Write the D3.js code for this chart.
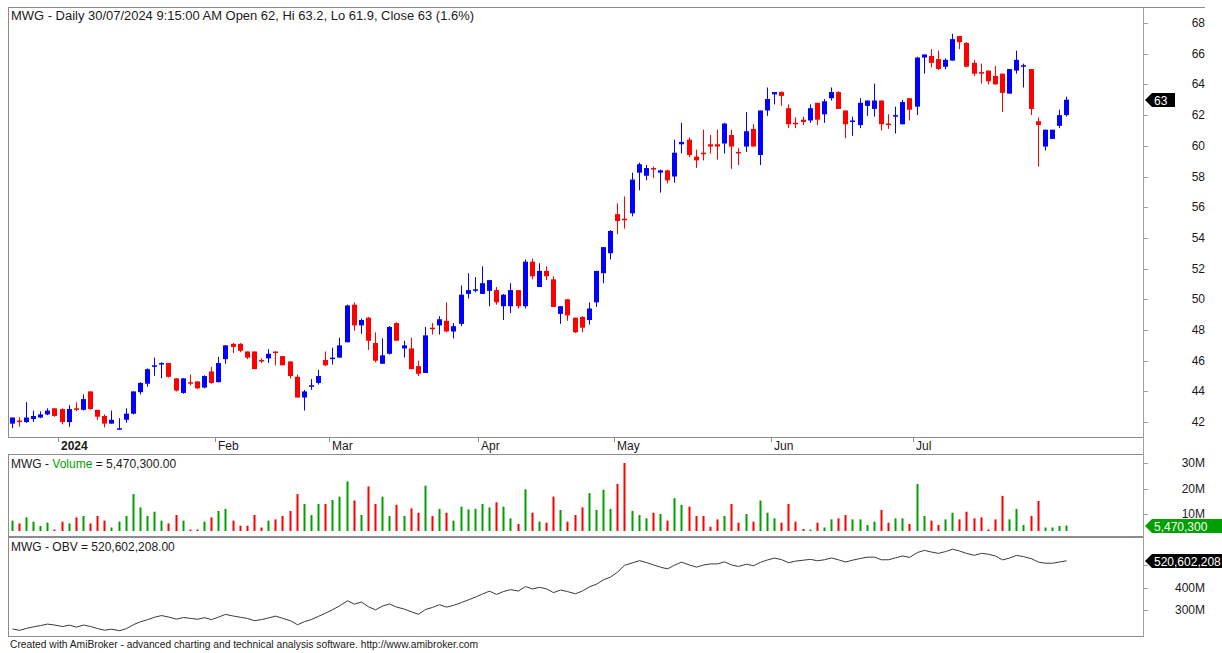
<!DOCTYPE html>
<meta charset="utf-8">
<script src="https://d3js.org/d3.v7.min.js"></script>
<style>
  body { margin: 0; background: #fff; }
  text { font-family: Arial, "Liberation Sans", sans-serif; fill: #1a1a1a; }
</style>
<div id="chart"></div>
<script>

// trading days: Dec 21 2023 .. Jul 30 2024, weekends and HOSE holidays removed
var holidays = ["2024-01-01", "2024-02-08", "2024-02-09", "2024-02-12", "2024-02-13",
                "2024-02-14", "2024-04-18", "2024-04-29", "2024-04-30", "2024-05-01"];

// daily prices (thousand VND)
var open = [41.9,42.1,42.0,42.2,42.3,42.5,42.9,42.85,42.0,42.9,
  42.8,44.0,42.8,42.4,41.9,41.5,42.15,42.55,43.95,44.5,
  45.6,45.75,45.85,44.85,43.9,44.6,44.65,44.25,45.3,44.6,
  46.1,47.1,47.1,46.6,46.6,46.05,46.15,46.6,46.3,45.95,
  44.95,43.6,44.3,44.55,46.05,46.15,46.2,47.2,49.65,48.3,
  48.8,47.15,45.8,46.45,48.45,46.8,46.8,45.65,45.2,48.15,
  48.3,48.6,47.9,48.4,50.35,50.6,50.35,50.55,50.6,49.55,
  49.55,50.6,49.55,52.45,50.8,51.85,51.3,49.05,50.0,48.8,
  48.85,48.65,49.8,51.7,53.0,55.55,55.25,55.6,58.25,58.05,
  58.55,58.25,58.4,58.0,60.1,60.4,59.3,59.55,60.1,60.1,
  60.15,60.7,59.6,59.95,61.1,59.4,62.3,63.35,63.5,62.45,
  61.5,61.7,61.65,62.8,62.05,63.1,63.5,62.3,61.6,61.35,
  62.6,62.4,62.95,61.45,61.95,61.4,63.1,62.55,65.75,65.85,
  65.65,65.15,65.55,67.15,66.7,65.4,64.8,64.9,64.55,64.7,
  63.4,64.9,65.2,65.0,61.6,59.95,60.45,61.3,62.0];
var high = [42.3,42.3,43.3,42.75,42.7,42.9,42.9,42.9,43.1,43.3,
  43.8,44.0,42.8,42.5,42.75,42.25,42.9,44.0,44.6,45.5,
  46.2,45.9,45.85,44.85,44.85,45.1,44.65,45.05,45.6,46.25,
  47.0,47.15,47.15,46.6,46.6,46.15,46.75,46.6,46.3,45.95,
  45.1,44.1,44.8,45.4,46.6,46.85,47.5,49.65,49.8,48.75,
  48.85,47.85,47.45,48.25,48.5,47.3,47.5,46.0,48.2,48.45,
  48.9,49.8,48.45,50.9,51.7,51.45,52.15,51.25,50.8,50.35,
  51.05,50.6,52.6,52.65,52.35,52.15,51.5,49.55,50.0,48.8,
  48.9,49.8,51.85,53.4,54.5,56.25,56.7,58.25,58.9,58.75,
  58.65,58.45,58.45,60.4,61.5,60.55,59.75,61.05,60.7,61.05,
  61.5,61.05,59.85,62.2,61.4,62.3,63.8,63.5,63.55,62.7,
  61.85,61.9,62.7,62.8,63.05,63.8,63.55,62.3,61.9,63.1,
  62.95,64.05,62.95,62.05,62.55,63.0,63.1,65.8,65.95,66.3,
  66.2,65.7,67.3,67.15,66.75,65.6,65.35,64.9,65.2,64.7,
  65.0,66.2,65.35,65.0,61.85,61.05,61.05,62.35,63.2];
var low = [41.6,41.7,41.95,42.0,42.25,42.45,42.35,41.85,41.7,42.7,
  42.75,42.8,42.15,41.65,41.9,41.5,41.95,42.5,43.8,44.3,
  45.0,44.85,44.9,44.0,43.85,44.4,44.15,44.2,44.5,44.6,
  45.8,46.5,46.55,46.1,45.45,45.85,45.85,45.7,45.7,44.85,
  43.6,42.75,44.1,44.45,45.65,45.75,46.2,47.2,47.95,47.75,
  46.7,45.9,45.8,46.4,47.3,46.2,45.45,45.0,45.2,47.7,
  47.7,47.85,47.45,48.25,50.05,50.45,50.35,49.55,49.65,48.65,
  49.1,49.4,49.4,51.3,50.8,51.25,49.5,48.4,48.6,47.8,
  47.85,48.35,49.5,51.05,52.6,54.25,54.6,55.4,57.1,57.75,
  57.9,56.95,57.55,57.6,59.5,59.25,58.55,59.05,59.5,59.1,
  59.5,58.5,58.75,59.6,59.95,58.75,61.95,62.7,62.6,61.15,
  61.15,61.35,61.5,61.35,61.5,62.95,62.4,60.5,60.65,61.15,
  61.95,61.9,61.0,61.1,60.8,61.4,61.65,62.0,64.7,65.1,
  64.95,65.0,65.55,66.3,65.15,64.55,64.05,64.0,64.0,62.2,
  63.4,64.7,63.8,62.0,58.65,59.7,60.45,61.15,61.9];
var close = [42.3,42.0,42.3,42.4,42.5,42.75,42.4,42.0,42.85,42.8,
  43.5,42.85,42.35,41.9,42.15,41.6,42.55,44.0,44.55,45.45,
  45.7,45.85,44.95,44.05,44.85,44.55,44.2,45.0,44.55,45.85,
  47.0,46.9,46.65,46.2,45.45,45.95,46.45,46.5,45.7,45.0,
  43.6,44.0,44.4,45.0,45.7,46.2,47.0,49.6,48.3,48.65,
  47.3,46.0,46.35,48.2,47.3,47.0,45.45,45.15,47.65,48.1,
  48.7,47.9,48.25,50.3,50.6,50.65,51.05,51.25,49.8,50.3,
  50.6,49.55,52.45,51.5,51.85,51.5,49.5,49.55,48.95,47.85,
  48.15,49.4,51.85,53.4,54.45,55.1,55.2,57.8,58.8,58.55,
  58.45,58.4,57.75,59.55,60.25,59.4,59.05,59.5,59.95,59.95,
  61.45,59.95,59.55,60.95,59.95,62.3,63.05,63.5,63.25,61.4,
  61.45,61.55,62.45,61.7,62.9,63.5,62.4,61.4,61.65,62.8,
  62.95,62.95,61.4,61.4,62.0,62.85,62.35,65.75,65.95,65.4,
  65.0,65.6,66.95,66.75,65.15,64.7,64.75,64.2,64.0,63.45,
  65.0,65.6,65.25,62.4,61.35,61.05,61.05,62.0,63.0];

// daily volume, millions of shares
var volume = [7.4,6.3,8.7,7.0,5.3,6.6,3.9,7.0,6.3,8.7,
  9.2,6.3,9.2,7.4,4.7,7.0,9.2,17.8,12.6,9.2,
  10.9,7.4,6.3,9.6,7.4,3.9,3.9,7.0,8.7,11.2,
  12.0,7.4,5.4,5.4,9.6,4.7,7.4,7.9,9.2,11.2,
  17.8,13.9,9.6,13.9,13.9,15.5,16.8,22.8,15.3,9.6,
  20.8,13.9,16.8,9.2,13.6,9.2,12.2,10.5,21.1,9.2,
  12.0,10.5,7.4,12.9,11.8,12.0,13.9,12.6,14.6,12.9,
  8.3,6.1,19.7,10.5,7.0,6.6,16.8,11.6,7.0,9.6,
  12.6,18.2,11.6,19.5,12.0,21.8,30.0,11.2,9.6,8.3,
  10.5,10.0,7.4,16.2,13.6,12.9,9.2,9.2,5.0,7.9,
  9.2,13.9,6.6,10.0,7.0,15.3,10.5,8.3,6.6,13.9,
  7.0,4.1,3.9,6.6,4.7,7.9,8.3,9.6,7.9,7.9,
  5.7,7.0,11.6,6.6,8.3,8.3,6.1,21.8,9.2,7.4,
  5.7,7.9,10.5,7.9,10.9,8.3,8.7,3.9,7.9,17.1,
  7.9,12.0,5.7,9.2,15.1,4.7,4.7,5.3,5.4703];

// OBV level on the first bar (millions)
var obvStart = 217.6;

var priceTicks = d3.range(42, 69, 2);
var volTicks = [10, 20, 30];
var obvTicks = [300, 400, 500];

var title = "MWG - Daily 30/07/2024 9:15:00 AM Open 62, Hi 63.2, Lo 61.9, Close 63 (1.6%)";
var footer = "Created with AmiBroker - advanced charting and technical analysis software. http://www.amibroker.com";

var W = 1222, H = 653;
var left = 8, right = 1143;
var pricePane = {top: 7, bottom: 437};
var volPane = {top: 454, bottom: 536};
var obvPane = {top: 537, bottom: 636};

var BLUE = "#0000ff", RED = "#ff0000", GREEN = "#00a000", FRAME = "#8c8c8c";

var fmtDay = d3.timeFormat("%Y-%m-%d");
var dates = d3.timeDay.range(new Date(2023, 11, 21), new Date(2024, 6, 31))
  .filter(function(d) { return d.getDay() % 6 !== 0 && holidays.indexOf(fmtDay(d)) < 0; });

var n = dates.length;
var data = dates.map(function(d, i) {
  return {i: i, date: d, o: open[i], h: high[i], l: low[i], c: close[i], v: volume[i]};
});

// on-balance volume
var obv = [obvStart];
for (var i = 1; i < n; i++) {
  var s = close[i] > close[i - 1] ? 1 : (close[i] < close[i - 1] ? -1 : 0);
  obv.push(obv[i - 1] + s * volume[i]);
}

var svg = d3.select("#chart").append("svg")
  .attr("width", W).attr("height", H)
  .style("display", "block");

var x = d3.scaleBand()
  .domain(d3.range(n))
  .range([8.14, 8.14 + n * 7.125]);
function cx(i) { return Math.round(x(i) + x.bandwidth() / 2); }

var y = d3.scaleLinear().domain([42, 68]).range([422.1, 23]);
var yv = d3.scaleLinear().domain([10, 30]).range([514, 463]);
var yo = d3.scaleLinear().domain([300, 400]).range([610.3, 587.7]);

// frames
[pricePane, volPane, obvPane].forEach(function(p) {
  svg.append("rect")
    .attr("x", left + 0.5).attr("y", p.top + 0.5)
    .attr("width", right - left).attr("height", p.bottom - p.top)
    .attr("fill", "none").attr("stroke", FRAME);
});
svg.append("line")
  .attr("x1", right + 0.5).attr("x2", right + 0.5)
  .attr("y1", pricePane.top).attr("y2", obvPane.bottom + 1)
  .attr("stroke", "#a0a0a0");
svg.append("line")
  .attr("x1", right).attr("x2", 1205)
  .attr("y1", pricePane.top + 0.5).attr("y2", pricePane.top + 0.5)
  .attr("stroke", FRAME);

// month labels
var months = data.filter(function(d) { return d.i > 0 && d.date.getMonth() !== dates[d.i - 1].getMonth(); });
var mg = svg.append("g");
mg.selectAll("line").data(months).enter().append("line")
  .attr("x1", function(d) { return Math.round(x(d.i)) + 0.5; })
  .attr("x2", function(d) { return Math.round(x(d.i)) + 0.5; })
  .attr("y1", pricePane.bottom).attr("y2", pricePane.bottom + 5)
  .attr("stroke", FRAME);
mg.selectAll("text").data(months).enter().append("text")
  .attr("x", function(d) { return Math.round(x(d.i)) + 3; })
  .attr("y", 450)
  .style("font-size", "12px")
  .style("font-weight", function(d) { return d.date.getMonth() === 0 ? "bold" : "normal"; })
  .text(function(d) { return d.date.getMonth() === 0 ? d3.timeFormat("%Y")(d.date) : d3.timeFormat("%b")(d.date); });

// candles
var cg = svg.append("g");
cg.selectAll("line").data(data).enter().append("line")
  .attr("x1", function(d) { return cx(d.i) + 0.5; })
  .attr("x2", function(d) { return cx(d.i) + 0.5; })
  .attr("y1", function(d) { return y(d.h); })
  .attr("y2", function(d) { return y(d.l); })
  .attr("stroke", function(d) { return d.c > d.o ? BLUE : RED; });
cg.selectAll("rect").data(data).enter().append("rect")
  .attr("x", function(d) { return cx(d.i) - 2; })
  .attr("width", 5)
  .attr("y", function(d) { return y(Math.max(d.o, d.c)); })
  .attr("height", function(d) { return Math.max(1.5, Math.abs(y(d.o) - y(d.c))); })
  .attr("fill", function(d) { return d.c > d.o ? BLUE : RED; });

// volume bars
svg.append("g").selectAll("rect").data(data).enter().append("rect")
  .attr("x", function(d) { return cx(d.i) - 0.5; })
  .attr("width", 2)
  .attr("y", function(d) { return yv(d.v); })
  .attr("height", function(d) { return Math.max(0, 531 - yv(d.v)); })
  .attr("fill", function(d) { return d.c > d.o ? GREEN : RED; });

// OBV line
svg.append("path")
  .datum(obv)
  .attr("fill", "none")
  .attr("stroke", "#3a3a3a")
  .attr("stroke-width", 1)
  .attr("d", d3.line().x(function(d, i) { return cx(i) + 0.5; }).y(function(d) { return yo(d); }));

// right axis ticks and labels (a label hidden under a value tag is left out)
function axisLabels(ticks, scale, fmt, tagY) {
  var g = svg.append("g");
  g.selectAll("line").data(ticks).enter().append("line")
    .attr("x1", right).attr("x2", right + 5)
    .attr("y1", function(d) { return Math.round(scale(d)) + 0.5; })
    .attr("y2", function(d) { return Math.round(scale(d)) + 0.5; })
    .attr("stroke", "#a0a0a0");
  g.selectAll("text")
    .data(ticks.filter(function(d) { return Math.abs(scale(d) - tagY) > 9; }))
    .enter().append("text")
    .attr("x", 1205).attr("y", function(d) { return scale(d) + 4; })
    .attr("text-anchor", "end")
    .style("font-size", "12px")
    .text(fmt);
}
var priceTagY = Math.round(y(close[n - 1]));
var volTagY = Math.round(yv(volume[n - 1]));
var obvTagY = Math.round(yo(obv[n - 1]));
axisLabels(priceTicks, y, function(d) { return d; }, priceTagY);
axisLabels(volTicks, yv, function(d) { return d + "M"; }, volTagY);
axisLabels(obvTicks, yo, function(d) { return d + "M"; }, obvTagY);

// last value tags
function tag(yy, w, color, label) {
  var x0 = right + 2;
  svg.append("path")
    .attr("d", "M" + x0 + "," + yy + "L" + (x0 + 7) + "," + (yy - 7) + "L" + (x0 + w) + "," + (yy - 7) +
               "L" + (x0 + w) + "," + (yy + 7) + "L" + (x0 + 7) + "," + (yy + 7) + "Z")
    .attr("fill", color);
  svg.append("text")
    .attr("x", x0 + 9).attr("y", yy + 4.5)
    .style("font-size", "12px").style("fill", "#fff")
    .text(label);
}
tag(priceTagY, 30, "#000", d3.format(".0f")(close[n - 1]));
tag(volTagY, 90, GREEN, d3.format(",")(Math.round(volume[n - 1] * 1e6)));
tag(obvTagY, 90, "#000", "520,602,208");

// titles
svg.append("text").attr("x", 11).attr("y", 20)
  .style("font-size", "12px")
  .attr("textLength", 463).attr("lengthAdjust", "spacingAndGlyphs")
  .text(title);

var vt = svg.append("text").attr("x", 11).attr("y", 468).style("font-size", "12px");
vt.append("tspan").text("MWG - ");
vt.append("tspan").style("fill", GREEN).text("Volume");
vt.append("tspan").text(" = " + d3.format(",.2f")(Math.round(volume[n - 1] * 1e6)));

svg.append("text").attr("x", 11).attr("y", 551)
  .style("font-size", "12px")
  .text("MWG - OBV = 520,602,208.00");

svg.append("text").attr("x", 10).attr("y", 648)
  .style("font-size", "10px")
  .style("font-family", "'Liberation Sans Narrow', 'Arial Narrow', sans-serif")
  .attr("textLength", 468).attr("lengthAdjust", "spacingAndGlyphs")
  .text(footer);

</script>
